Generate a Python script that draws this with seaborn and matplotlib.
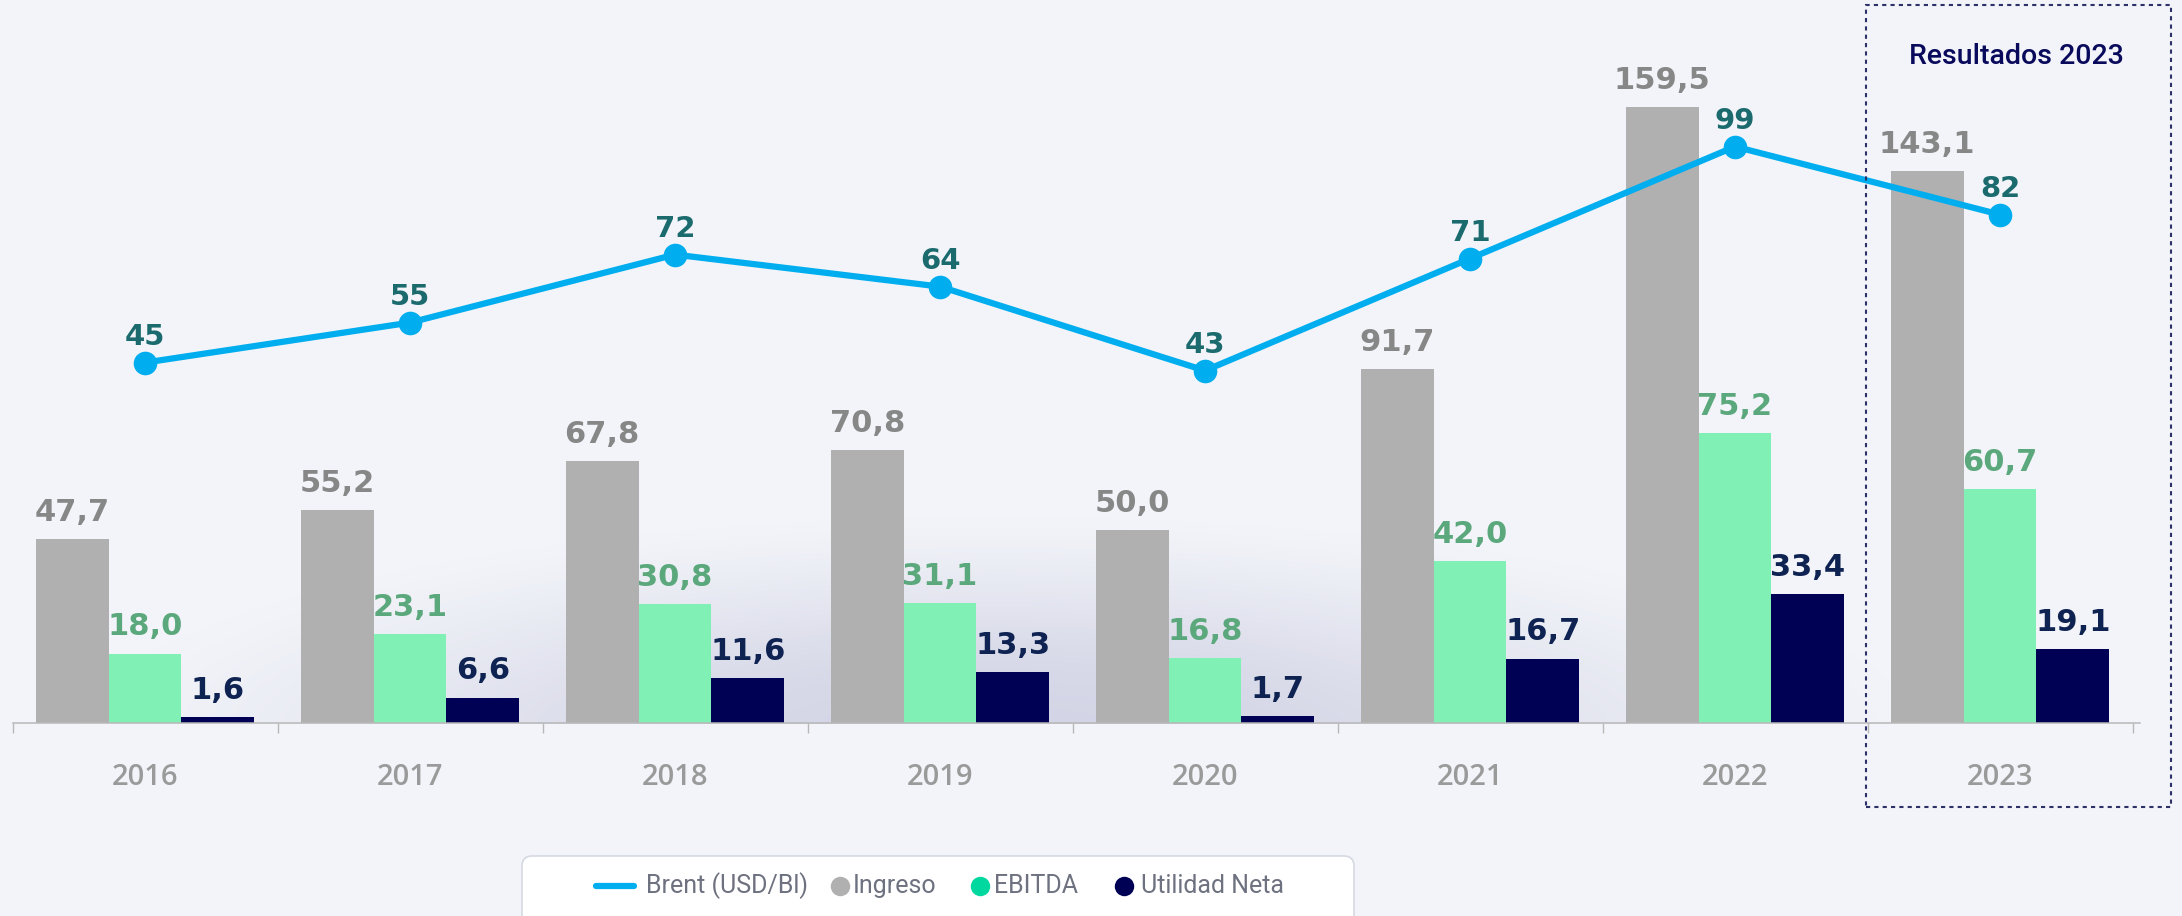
import numpy as np
import pandas as pd
import seaborn as sns
import matplotlib.pyplot as plt
from matplotlib.lines import Line2D
from matplotlib.patches import Rectangle, FancyBboxPatch
from matplotlib.transforms import IdentityTransform

# datos (miles de millones / USD por barril)
anios = ['2016', '2017', '2018', '2019', '2020', '2021', '2022', '2023']
ingreso = [47.7, 55.2, 67.8, 70.8, 50.0, 91.7, 159.5, 143.1]
ebitda = [18.0, 23.1, 30.8, 31.1, 16.8, 42.0, 75.2, 60.7]
utilidad = [1.6, 6.6, 11.6, 13.3, 1.7, 16.7, 33.4, 19.1]
brent = [45, 55, 72, 64, 43, 71, 99, 82]
series = ['Ingreso', 'EBITDA', 'Utilidad Neta']

W, H = 2182, 916
BG = '#F2F4F9'
bar_colors = ['#B0B0B0', '#80F0B4', '#000055']
label_colors = ['#878787', '#5BA87C', '#0E2352']
legend_colors = ['#B0B0B0', '#00D8A0', '#000055']
BRENT = '#00AEEF'

sns.set_theme(style='white')
plt.rcParams['font.family'] = ['DejaVu Sans']

df = pd.DataFrame({
    'Año': anios * 3,
    'Serie': [s for s in series for _ in anios],
    'Valor': ingreso + ebitda + utilidad,
})

fig = plt.figure(figsize=(W / 100, H / 100), dpi=100, facecolor=BG)

# sombra suave detras de las barras
bg = fig.add_axes([0, 0, 1, 1], zorder=-1)
yy, xx = np.mgrid[0:H, 0:W]
r = 1 - ((xx - 1000) / 950) ** 2 - ((yy - 740) / 230) ** 2
alpha = 0.55 * np.clip(r, 0, 1) ** 1.7
alpha[yy > 723] = 0
img = np.zeros((H, W, 4))
img[..., 0] = 185 / 255
img[..., 1] = 185 / 255
img[..., 2] = 212 / 255
img[..., 3] = alpha
bg.imshow(img, extent=(0, W, H, 0), aspect='auto')
bg.set_xlim(0, W)
bg.set_ylim(H, 0)
bg.axis('off')

ax = fig.add_axes([0, (H - 723) / H, 1, 723 / H])
ax.set_facecolor('none')
sns.barplot(data=df, x='Año', y='Valor', hue='Serie', palette=bar_colors,
            width=0.825, saturation=1, errorbar=None, legend=False,
            linewidth=0, edgecolor='none', ax=ax)
ax.set_ylim(0, 723 / 3.86)

for cont, col in zip(ax.containers, label_colors):
    for bar in cont:
        h = bar.get_height()
        ax.annotate(f'{h:.1f}'.replace('.', ','),
                    (bar.get_x() + bar.get_width() / 2, h),
                    xytext=(0, 13), textcoords='offset points',
                    ha='center', va='baseline', fontsize=22,
                    fontweight='bold', color=col)

# Brent en eje secundario
ax2 = ax.twinx()
sns.lineplot(x=np.arange(len(anios)), y=brent, ax=ax2, color=BRENT,
             linewidth=4.5, marker='o', markersize=17, markeredgewidth=0)
ax2.set_ylim(-(723 - 542.6) / 4.0, 542.6 / 4.0)
for i, v in enumerate(brent):
    ax2.annotate(str(v), (i, v), xytext=(0, 13), textcoords='offset points',
                 ha='center', va='baseline', fontsize=21, fontweight='bold',
                 color='#1B6B6E')
ax2.axis('off')

ax.set_xlim(-145 / 265, (W - 145) / 265)
ax.set_xticks(range(len(anios)))
ax.set_xticklabels(anios, family='Open Sans', fontweight='semibold')
ax.set_xticks(np.arange(-0.5, len(anios), 1), minor=True)
ax.tick_params(axis='x', which='major', bottom=False, length=0, pad=29,
               labelsize=21, labelcolor='#9A9A9A')
ax.tick_params(axis='x', which='minor', bottom=True, length=7, width=1,
               color='#B8B8B8', direction='out')
ax.set_yticks([])
ax.set_xlabel('')
ax.set_ylabel('')
for s in ['top', 'left', 'right']:
    ax.spines[s].set_visible(False)
ax.spines['bottom'].set_color('#B8B8B8')
ax.spines['bottom'].set_linewidth(1.1)
ax.spines['bottom'].set_bounds(-0.5, 7.53)

# recuadro resultados 2023
fig.patches.append(Rectangle((1866, H - 807), 2171 - 1866, 807 - 5,
                             transform=IdentityTransform(), fill=False,
                             ec='#2E3068', lw=1.5, ls=(0, (2, 2))))
fig.text(2016 / W, 1 - 56 / H, 'Resultados 2023', ha='center', va='center',
         fontsize=20.5, fontweight='medium', color='#0A0A5C', family='Roboto')

# leyenda
fig.patches.append(FancyBboxPatch((522, H - 935), 1354 - 522, 935 - 856,
                                  boxstyle='round,pad=0,rounding_size=10',
                                  transform=IdentityTransform(), fc='white',
                                  ec='#D5D9E2', lw=1.2))
ly = 1 - 886 / H
fig.add_artist(Line2D([596 / W, 634 / W], [ly, ly], color=BRENT, lw=4.5,
                      solid_capstyle='round', transform=fig.transFigure))
leg_txt = dict(ha='left', va='center', fontsize=18, color='#6E7280',
               family='Roboto')
fig.text(646 / W, ly, 'Brent (USD/Bl)', **leg_txt)
for xd, xt, name, col in zip([840, 980, 1124], [853, 994, 1141], series, legend_colors):
    fig.add_artist(Line2D([xd / W], [ly], marker='o', ms=14, mew=0, color=col,
                          transform=fig.transFigure))
    fig.text(xt / W, ly, name, **leg_txt)

fig.savefig('out.png', dpi=100, facecolor=BG)
